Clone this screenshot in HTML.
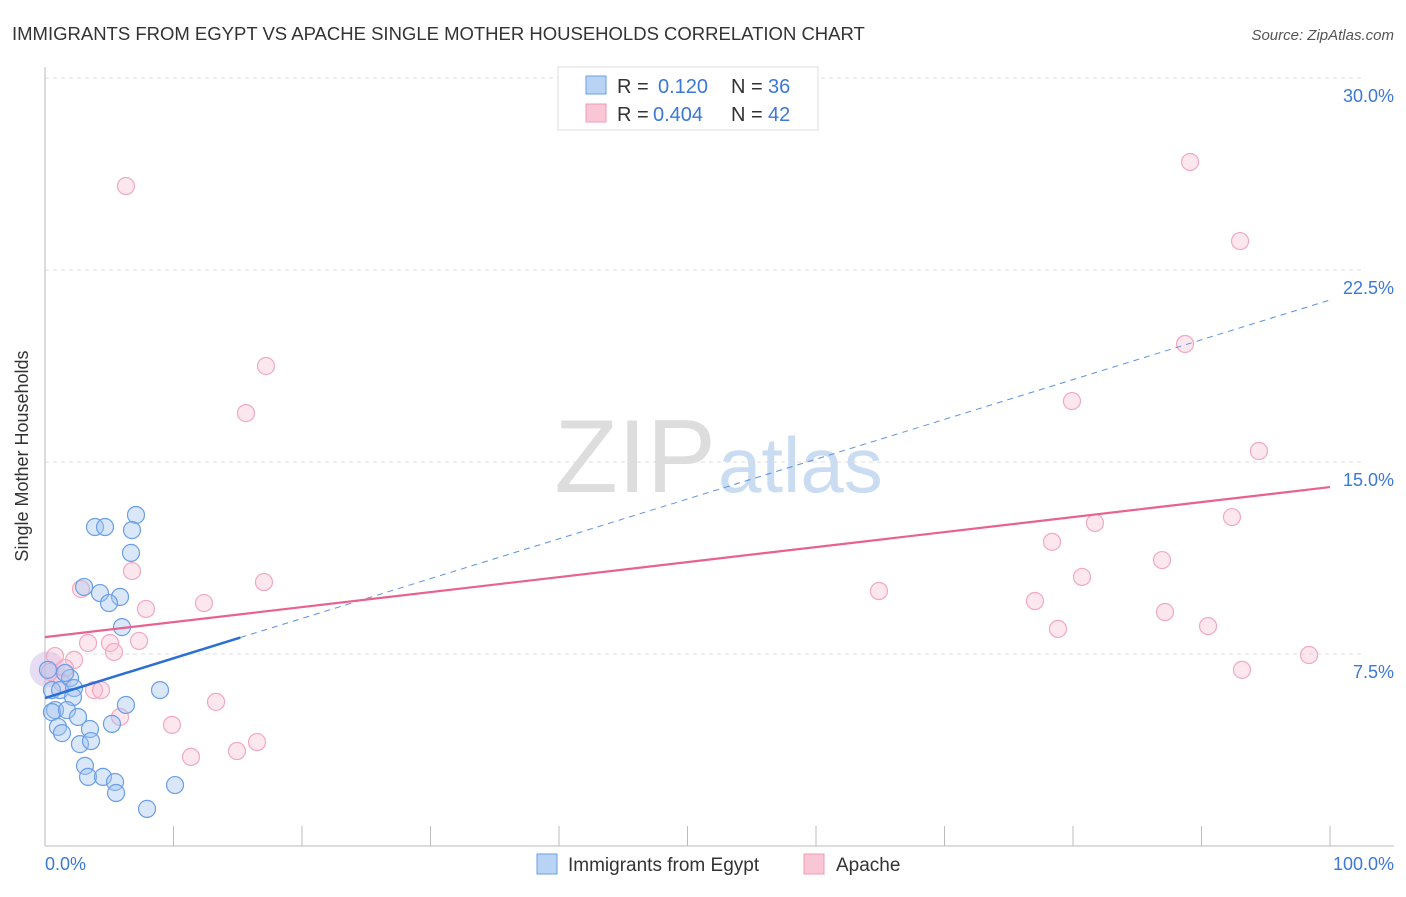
<!DOCTYPE html>
<html><head><meta charset="utf-8"><style>
body{margin:0;background:#fff;font-family:"Liberation Sans",sans-serif;}
svg text{font-family:"Liberation Sans",sans-serif;}
</style></head><body>
<svg id="c" width="1406" height="892">
<text x="12" y="40" font-size="18.5" fill="#333">IMMIGRANTS FROM EGYPT VS APACHE SINGLE MOTHER HOUSEHOLDS CORRELATION CHART</text>
<text x="1394" y="40" font-size="15" fill="#555" text-anchor="end" font-style="italic">Source: ZipAtlas.com</text>
<text x="28" y="456" font-size="18" fill="#333" text-anchor="middle" transform="rotate(-90 28 456)">Single Mother Households</text>
<text x="716" y="492" font-size="104" fill="#ddd" text-anchor="end" font-family="Liberation Serif">ZIP</text>
<text x="718" y="492" font-size="78" fill="#c9dcf2">atlas</text>
<g id="grid"></g><g id="axes"></g><g id="pts"></g><g id="lines"></g>
<g>
<rect x="558" y="67" width="260" height="63" fill="#fff" stroke="#ddd"/>
<rect x="586" y="76" width="20" height="18" fill="#b9d3f5" stroke="#6a9ee6"/>
<text x="617" y="93" font-size="20" fill="#333">R = </text><text x="658" y="93" font-size="20" fill="#3b78d8">0.120</text>
<text x="731" y="93" font-size="20" fill="#333">N = </text><text x="768" y="93" font-size="20" fill="#3b78d8">36</text>
<rect x="586" y="104" width="20" height="18" fill="#f9c6d6" stroke="#f09ab5"/>
<text x="617" y="121" font-size="20" fill="#333">R = </text><text x="653" y="121" font-size="20" fill="#3b78d8">0.404</text>
<text x="731" y="121" font-size="20" fill="#333">N = </text><text x="768" y="121" font-size="20" fill="#3b78d8">42</text>
</g>
<g>
<rect x="537" y="854" width="20" height="20" fill="#b9d3f5" stroke="#6a9ee6"/>
<text x="568" y="871" font-size="19" fill="#333">Immigrants from Egypt</text>
<rect x="804" y="854" width="20" height="20" fill="#f9c6d6" stroke="#f09ab5"/>
<text x="836" y="871" font-size="19" fill="#333">Apache</text>
</g>
<text x="45" y="870" font-size="18" fill="#3b78d8">0.0%</text>
<text x="1394" y="870" font-size="18" fill="#3b78d8" text-anchor="end">100.0%</text>
</svg>
<script>
const yTicks=[7.5,15,22.5,30];
const yTickLabels=["7.5%","15.0%","22.5%","30.0%"];
const xTicks=[0,10,20,30,40,50,60,70,80,90,100];
const egyptX=[7.08,3.89,4.67,6.77,6.69,3.04,4.28,5.84,4.98,5.99,8.95,6.30,0.23,0.54,1.17,1.95,2.26,2.18,0.78,0.54,1.71,2.57,1.01,1.32,3.50,5.21,2.72,3.58,3.11,3.35,4.51,5.45,5.53,10.12,7.94,1.56];
const egyptY=[12.93,12.46,12.46,12.34,11.45,10.12,9.88,9.73,9.49,8.55,6.09,5.51,6.88,6.09,6.09,6.56,6.17,5.82,5.31,5.23,5.31,5.04,4.65,4.41,4.57,4.77,3.98,4.10,3.13,2.70,2.70,2.50,2.07,2.38,1.45,6.76];
const apacheX=[6.30,89.11,93.00,17.20,88.72,15.64,79.92,94.47,92.37,81.71,78.37,86.93,6.77,17.04,2.80,80.70,64.90,77.04,7.86,12.37,87.16,78.83,90.51,3.35,5.06,7.32,5.37,2.26,0.78,98.37,93.15,1.56,0.39,3.81,4.36,13.31,5.84,9.88,11.36,14.94,16.50,1.32];
const apacheY=[25.78,26.72,23.63,18.75,19.61,16.91,17.38,15.43,12.85,12.62,11.88,11.17,10.74,10.31,10.04,10.51,9.96,9.57,9.26,9.49,9.14,8.48,8.59,7.93,7.93,8.01,7.58,7.27,7.42,7.46,6.88,6.95,6.80,6.09,6.09,5.63,5.04,4.73,3.48,3.71,4.06,6.37];
const egyptTrend=[5.78,21.33];
const egyptSolidEnd=15.2;
const apacheTrend=[8.16,14.02];
const NS="http://www.w3.org/2000/svg";
const sx=v=>45+v*12.85, sy=v=>846-v*25.6;
function mk(p,t,a){const e=document.createElementNS(NS,t);for(const k in a)e.setAttribute(k,a[k]);p.appendChild(e);return e;}
const grid=document.getElementById('grid'),axes=document.getElementById('axes'),pts=document.getElementById('pts'),lines=document.getElementById('lines');
yTicks.forEach((t,i)=>{
 const l=mk(grid,'line',{x1:45,x2:1365,y1:sy(t),y2:sy(t),stroke:'#ddd','stroke-dasharray':'4,4'});
 
 
 const tx=mk(grid,'text',{x:1394,y:sy(t)+24,'font-size':18,fill:'#3b78d8','text-anchor':'end'});
 tx.textContent=yTickLabels[i];
 
 
});
const ax=mk(axes,'line',{x1:45,x2:1394,y1:846,y2:846,stroke:'#bbb'});


const ay=mk(axes,'line',{x1:45,x2:45,y1:67,y2:846,stroke:'#bbb'});


xTicks.forEach(t=>{
 const l=mk(axes,'line',{x1:sx(t),x2:sx(t),y1:826,y2:846,stroke:'#bbb'});
 
 
});
const blob=mk(pts,'circle',{cx:sx(0.2),cy:sy(6.9),r:18,fill:'rgba(200,180,230,0.45)'});


apacheX.forEach((x,i)=>{
 const c=mk(pts,'circle',{cx:sx(x),cy:sy(apacheY[i]),r:8.5,fill:'rgba(248,187,208,0.35)',stroke:'#f2a8c0','stroke-width':1.2});
 
 
});
egyptX.forEach((x,i)=>{
 const c=mk(pts,'circle',{cx:sx(x),cy:sy(egyptY[i]),r:8.5,fill:'rgba(160,196,240,0.4)',stroke:'#6a9ee6','stroke-width':1.2});
 
 
});
const ey=x=>egyptTrend[0]+(egyptTrend[1]-egyptTrend[0])*x/100;
const d=mk(lines,'line',{x1:sx(egyptSolidEnd),y1:sy(ey(egyptSolidEnd)),x2:sx(100),y2:sy(ey(100)),stroke:'#5b93e0','stroke-width':1,'stroke-dasharray':'6,5'});


const s=mk(lines,'line',{x1:sx(0),y1:sy(ey(0)),x2:sx(egyptSolidEnd),y2:sy(ey(egyptSolidEnd)),stroke:'#2a6fd6','stroke-width':2.5});


const p=mk(lines,'line',{x1:sx(0),y1:sy(apacheTrend[0]),x2:sx(100),y2:sy(apacheTrend[1]),stroke:'#e8628d','stroke-width':2.2});


</script>
</body></html>
